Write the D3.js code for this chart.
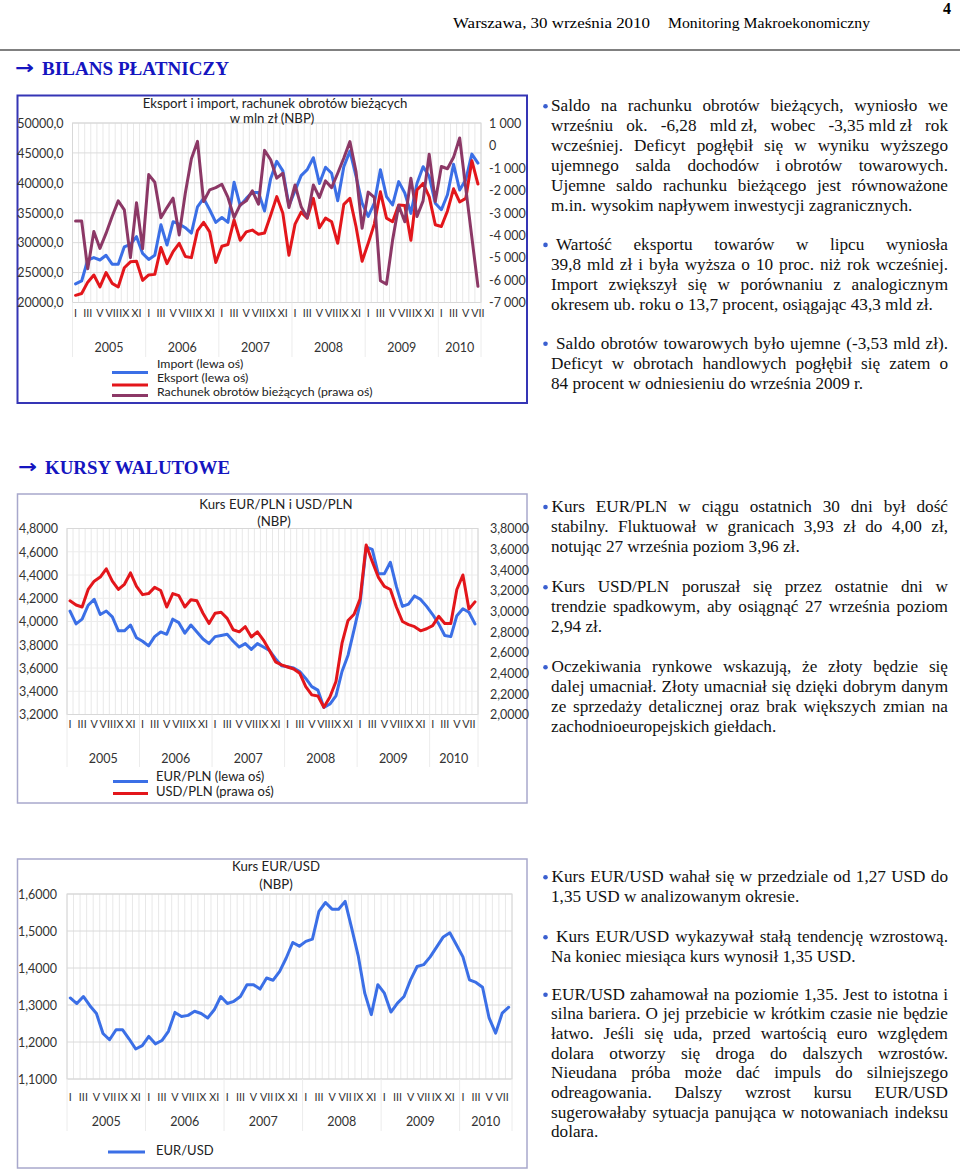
<!DOCTYPE html>
<html><head><meta charset="utf-8">
<script src="https://cdn.jsdelivr.net/npm/d3@7"></script>
<style>html,body{margin:0;padding:0;background:#fff}svg{display:block}</style>
</head><body>
<svg id="page" width="960" height="1171"></svg>
<script>
// ---------------- DATA ----------------
const romanMonths = ["I","II","III","IV","V","VI","VII","VIII","IX","X","XI","XII"];
const years = ["2005","2006","2007","2008","2009","2010"];

// Chart 1: Jan 2005 - Jul 2010 (mln zł)
const importVals = [23100,23600,27100,27500,27100,27900,26400,26400,29300,29700,31000,28200,
  27200,27900,33000,29600,33500,33100,32500,31600,36000,37400,35500,33400,
  34200,33400,40100,36200,37400,38400,38400,35300,40700,43600,42000,36200,
  38700,41200,42200,44200,39900,42600,41600,37000,42700,45300,41100,36600,
  34400,36600,42200,37700,36300,40200,38300,34900,39900,42700,41100,36600,
  35500,38000,43100,38800,40500,44800,43300];
const exportVals = [21200,21500,23400,24600,22600,25000,23200,22600,25800,26800,26900,23700,
  24600,24700,29200,26500,28500,29900,27700,27500,32000,33400,31800,26700,
  29400,29700,33800,30400,31800,32100,31400,31600,34600,37700,34900,27900,
  33100,35100,34100,37400,32500,34100,33500,29900,36400,37400,32700,26900,
  29900,33100,38500,34100,33500,36300,36200,30400,38800,39900,37700,33000,
  32700,35300,39000,36800,37400,43700,39800];
const currentAccount = [-3370,-3370,-5500,-3840,-4590,-3920,-3170,-2470,-2870,-5000,-2550,-4600,
  -1300,-1640,-3220,-2770,-2350,-3990,-2130,-590,180,-2500,-1980,-1880,
  -1730,-2320,-3220,-2650,-2470,-2020,-2620,-220,-640,-1460,-1240,-2770,
  -1760,-2730,-3220,-1760,-2320,-1580,-1880,-1240,-560,170,-1160,-3690,
  -2080,-2320,-6030,-6180,-4220,-2680,-3400,-1460,-3170,-2470,-390,-2500,
  -940,-1040,-530,330,-1900,-4100,-6280];
const c1LeftTicks = [20000,25000,30000,35000,40000,45000,50000];
const c1RightTicks = [-7000,-6000,-5000,-4000,-3000,-2000,-1000,0,1000];

// Chart 2: Jan 2005 - Aug 2010
const eurpln = [4.09,3.98,4.02,4.14,4.19,4.06,4.09,4.04,3.92,3.92,3.97,3.86,
  3.83,3.79,3.87,3.91,3.89,4.02,3.99,3.90,3.97,3.91,3.85,3.81,
  3.87,3.88,3.89,3.83,3.78,3.81,3.76,3.81,3.78,3.75,3.68,3.62,
  3.61,3.60,3.57,3.51,3.44,3.41,3.26,3.29,3.36,3.57,3.71,3.93,
  4.16,4.64,4.62,4.41,4.41,4.51,4.30,4.13,4.15,4.22,4.19,4.13,
  4.06,3.98,3.88,3.87,4.05,4.11,4.08,3.98];
const usdpln = [3.10,3.06,3.04,3.21,3.29,3.33,3.41,3.29,3.21,3.26,3.37,3.24,
  3.16,3.17,3.23,3.20,3.04,3.17,3.15,3.04,3.11,3.10,2.98,2.88,
  2.98,2.99,2.93,2.82,2.80,2.85,2.75,2.80,2.72,2.62,2.51,2.48,
  2.46,2.44,2.40,2.27,2.19,2.18,2.07,2.17,2.32,2.69,2.91,2.97,
  3.12,3.64,3.48,3.33,3.24,3.21,3.04,2.90,2.87,2.85,2.81,2.83,
  2.86,2.95,2.88,2.88,3.21,3.35,3.02,3.09];
const c2LeftTicks = [3.2,3.4,3.6,3.8,4.0,4.2,4.4,4.6,4.8];
const c2RightTicks = [2.0,2.2,2.4,2.6,2.8,3.0,3.2,3.4,3.6,3.8];

// Chart 3: Jan 2005 - Aug 2010
const eurusd = [1.319,1.304,1.323,1.298,1.277,1.223,1.206,1.233,1.233,1.208,1.181,1.190,
  1.215,1.195,1.204,1.229,1.280,1.269,1.272,1.283,1.277,1.265,1.287,1.323,
  1.304,1.310,1.323,1.355,1.355,1.343,1.373,1.367,1.391,1.427,1.469,1.459,
  1.472,1.478,1.553,1.577,1.559,1.559,1.580,1.508,1.433,1.332,1.274,1.355,
  1.332,1.281,1.305,1.323,1.368,1.404,1.409,1.430,1.457,1.484,1.495,1.463,
  1.430,1.368,1.361,1.348,1.265,1.224,1.278,1.294];
const c3Ticks = [1.1,1.2,1.3,1.4,1.5,1.6];

// ---------------- TEXT CONTENT ----------------
const block1 = [
  ["Saldo na rachunku obrotów bieżących, wyniosło we",
   "wrześniu ok. -6,28 mld\u00a0zł, wobec -3,35\u00a0mld\u00a0zł rok",
   "wcześniej. Deficyt pogłębił się w wyniku wyższego",
   "ujemnego salda dochodów i\u00a0obrotów towarowych.",
   "Ujemne saldo rachunku bieżącego jest równoważone",
   "m.in. wysokim napływem inwestycji zagranicznych."],
  ["Wartość eksportu towarów w lipcu wyniosła",
   "39,8 mld zł i była wyższa o 10 proc. niż rok wcześniej.",
   "Import zwiększył się w porównaniu z analogicznym",
   "okresem ub. roku o 13,7 procent, osiągając 43,3 mld zł."],
  ["Saldo obrotów towarowych było ujemne (-3,53 mld zł).",
   "Deficyt w obrotach handlowych pogłębił się zatem o",
   "84 procent w odniesieniu do września 2009 r."]
];
const block2 = [
  ["Kurs EUR/PLN w ciągu ostatnich 30 dni był dość",
   "stabilny. Fluktuował w granicach 3,93 zł do 4,00 zł,",
   "notując 27 września poziom 3,96 zł."],
  ["Kurs USD/PLN poruszał się przez ostatnie dni w",
   "trendzie spadkowym, aby osiągnąć 27 września poziom",
   "2,94 zł."],
  ["Oczekiwania rynkowe wskazują, że złoty będzie się",
   "dalej umacniał. Złoty umacniał się dzięki dobrym danym",
   "ze sprzedaży detalicznej oraz brak większych zmian na",
   "zachodnioeuropejskich giełdach."]
];
const block3 = [
  ["Kurs EUR/USD wahał się w przedziale od 1,27 USD do",
   "1,35 USD w analizowanym okresie."],
  ["Kurs EUR/USD wykazywał stałą tendencję wzrostową.",
   "Na koniec miesiąca kurs wynosił 1,35 USD."],
  ["EUR/USD zahamował na poziomie 1,35. Jest to istotna i",
   "silna bariera. O jej przebicie w krótkim czasie nie będzie",
   "łatwo. Jeśli się uda, przed wartością euro względem",
   "dolara otworzy się droga do dalszych wzrostów.",
   "Nieudana próba może dać impuls do silniejszego",
   "odreagowania. Dalszy wzrost kursu EUR/USD",
   "sugerowałaby sytuacja panująca w notowaniach indeksu",
   "dolara."]
];

// ---------------- STYLE ----------------
const SANS = "Lato, 'Open Sans', sans-serif";
const SERIF = "'Liberation Serif', 'Times New Roman', serif";
const BLUE = "#3b6fe6", RED = "#e3161b", PURPLE = "#8c3866";
const loc = d3.formatLocale({decimal:",", thousands:" ", grouping:[3], currency:["",""], minus:"-"});

const svg = d3.select("#page");

// ---------------- HEADER ----------------
svg.append("text").attr("x",943).attr("y",14).attr("font-family",SERIF).attr("font-weight","bold")
  .attr("font-size",16).text("4");
svg.append("text").attr("x",453).attr("y",28).attr("font-family",SERIF).attr("font-size",15)
  .attr("textLength",197).attr("lengthAdjust","spacingAndGlyphs").text("Warszawa, 30 września 2010");
svg.append("text").attr("x",668).attr("y",28).attr("font-family",SERIF).attr("font-size",15)
  .attr("textLength",202).attr("lengthAdjust","spacingAndGlyphs").text("Monitoring Makroekonomiczny");
svg.append("line").attr("x1",0).attr("x2",960).attr("y1",50).attr("y2",50)
  .attr("stroke","#808080").attr("stroke-width",2);

function heading(x, y, txt, tx, len){
  svg.append("text").attr("x",x).attr("y",y-1).attr("font-family","'DejaVu Sans', sans-serif")
    .attr("font-weight","bold").attr("font-size",19).attr("fill","#1515c0")
    .attr("textLength",19).attr("lengthAdjust","spacingAndGlyphs").text("→");
  svg.append("text").attr("x",tx).attr("y",y).attr("font-family",SERIF).attr("font-weight","bold")
    .attr("font-size",19).attr("fill","#1515c0").attr("textLength",len)
    .attr("lengthAdjust","spacingAndGlyphs").text(txt);
}
heading(15, 75, "BILANS PŁATNICZY", 42, 187);
heading(18, 474, "KURSY WALUTOWE", 45, 185);

// ---------------- PARAGRAPHS ----------------
const FS = 17.2;
function measure(str){
  const t = svg.append("text").attr("font-family",SERIF).attr("font-size",FS).text(str);
  const w = t.node().getComputedTextLength(); t.remove(); return w;
}
function drawLine(x0, x1, y, str, justify){
  const t = svg.append("text").attr("y",y).attr("font-family",SERIF).attr("font-size",FS).attr("fill","#111");
  if(!justify){ t.attr("x",x0).text(str); return; }
  const words = str.split(" ");
  const ws = words.map(measure);
  const gap = (x1 - x0 - d3.sum(ws)) / Math.max(1, words.length-1);
  let cx = x0;
  words.forEach((w,i)=>{ t.append("tspan").attr("x",cx).text(w); cx += ws[i] + gap; });
}
function drawBlock(block, starts, lh, firstIndents){
  block.forEach((lines, bi)=>{
    const yc0 = starts[bi];
    svg.append("circle").attr("cx",545.5).attr("cy",yc0+0.5).attr("r",2.3).attr("fill","#3a5fd0");
    lines.forEach((ln, li)=>{
      const x0 = li===0 ? firstIndents[bi] : 551;
      drawLine(x0, 948, yc0 + li*lh + 5.5, ln, li < lines.length-1);
    });
  });
}
drawBlock(block1, [105.7, 244.4, 343.2], 20, [551, 556, 556]);
drawBlock(block2, [506.5, 586.7, 666.7], 20, [551.5, 551.5, 551.5]);
drawBlock(block3, [876.7, 936.7, 994.3], 19.65, [551.5, 556, 551.5]);

// ---------------- CHARTS ----------------
function chart(cfg){
  const g = svg.append("g");
  const [fx0, fy0, fx1, fy1] = cfg.frame;
  g.append("rect").attr("x",fx0).attr("y",fy0).attr("width",fx1-fx0).attr("height",fy1-fy0)
    .attr("fill","#fff").attr("stroke",cfg.frameColor).attr("stroke-width",cfg.frameWidth);

  const cats = d3.range(cfg.n);
  const x = d3.scaleBand().domain(cats).range([cfg.px0, cfg.px1]);
  const bw = x.bandwidth();
  const xc = i => x(i) + bw/2;
  const yL = d3.scaleLinear().domain(d3.extent(cfg.leftTicks)).range([cfg.py1, cfg.py0]);
  const yR = cfg.rightTicks ? d3.scaleLinear().domain(d3.extent(cfg.rightTicks)).range([cfg.py1, cfg.py0]) : null;

  // vertical gridlines
  g.append("g").selectAll("line").data(d3.range(cfg.n+1)).join("line")
    .attr("x1", i => cfg.px0 + i*bw).attr("x2", i => cfg.px0 + i*bw)
    .attr("y1", cfg.py0).attr("y2", cfg.py1).attr("stroke","#e8e8e8").attr("stroke-width",1);
  // horizontal gridlines
  g.append("g").selectAll("line").data(cfg.leftTicks).join("line")
    .attr("x1", cfg.px0).attr("x2", cfg.px1).attr("y1", d=>yL(d)).attr("y2", d=>yL(d))
    .attr("stroke", cfg.hgrid).attr("stroke-width",1);
  // plot border
  g.append("rect").attr("x",cfg.px0).attr("y",cfg.py0).attr("width",cfg.px1-cfg.px0)
    .attr("height",cfg.py1-cfg.py0).attr("fill","none").attr("stroke","#d8d8d8");

  // year separators
  const bounds = [0,12,24,36,48,60,cfg.n];
  g.append("g").selectAll("line").data(bounds).join("line")
    .attr("x1", i => cfg.px0 + i*bw).attr("x2", i => cfg.px0 + i*bw)
    .attr("y1", cfg.py1).attr("y2", cfg.sepBottom).attr("stroke","#ececec");

  // left axis
  const axL = g.append("g").attr("transform",`translate(${cfg.px0},0)`)
    .call(d3.axisLeft(yL).tickValues(cfg.leftTicks).tickFormat(cfg.leftFmt).tickSize(0).tickPadding(cfg.leftPad));
  axL.select(".domain").remove();
  axL.selectAll("text").attr("font-family",SANS).attr("font-size",12.5).attr("fill","#333")
    .attr("dy", null).attr("y", 4.3);
  if(yR){
    const axR = g.append("g").attr("transform",`translate(${cfg.px1},0)`)
      .call(d3.axisRight(yR).tickValues(cfg.rightTicks).tickFormat(cfg.rightFmt).tickSize(0).tickPadding(cfg.rightPad));
    axR.select(".domain").remove();
    axR.selectAll("text").attr("font-family",SANS).attr("font-size",12.5).attr("fill","#333")
      .attr("dy", null).attr("y", 4.3);
  }
  // month axis
  const axX = g.append("g").attr("transform",`translate(0,${cfg.py1})`)
    .call(d3.axisBottom(x).tickValues(cats.filter(i => i%2===0)).tickFormat(i => romanMonths[i%12]).tickSize(0));
  axX.select(".domain").remove();
  axX.selectAll("text").attr("font-family",SANS).attr("font-size",10.8).attr("fill","#333")
    .attr("dy", null).attr("y", cfg.monthBase - cfg.py1);
  // years
  g.append("g").selectAll("text").data(years).join("text")
    .attr("x", (d,k) => { const a = bounds[k], b = bounds[k+1]; return cfg.px0 + (a+b)/2*bw; })
    .attr("y", cfg.yearBase).attr("text-anchor","middle")
    .attr("font-family",SANS).attr("font-size",12.5).attr("fill","#333").text(d=>d);

  // series
  cfg.series.forEach(s => {
    const sc = s.axis === "right" ? yR : yL;
    const line = d3.line().x((d,i)=>xc(i)).y(d=>sc(d));
    g.append("path").datum(s.values).attr("d", line).attr("fill","none")
      .attr("stroke", s.color).attr("stroke-width", cfg.lineWidth)
      .attr("stroke-linejoin","round").attr("stroke-linecap","round");
  });

  // title
  cfg.title.forEach(t => {
    g.append("text").attr("x", t.x).attr("y", t.y).attr("text-anchor","middle")
      .attr("font-family",SANS).attr("font-size",13.2).attr("fill","#222").text(t.text);
  });
  // legend
  cfg.series.forEach(s => {
    g.append("line").attr("x1", cfg.legend.lx0).attr("x2", cfg.legend.lx1)
      .attr("y1", s.ly).attr("y2", s.ly).attr("stroke", s.color).attr("stroke-width", 3.2);
    g.append("text").attr("x", cfg.legend.tx).attr("y", s.ty).attr("font-family",SANS)
      .attr("font-size",cfg.legend.fs).attr("fill","#222").text(s.label);
  });
}

chart({
  frame:[17.5,95.5,527,403], frameColor:"#3535b5", frameWidth:2,
  n: importVals.length, px0:72.5, px1:481, py0:123, py1:302.5,
  leftTicks:c1LeftTicks, leftFmt: loc.format(".1f"), leftPad:9,
  rightTicks:c1RightTicks, rightFmt: loc.format(",.0f"), rightPad:8,
  hgrid:"#dcdcdc", sepBottom:357, monthBase:316.5, yearBase:351.5, lineWidth:3,
  title:[{text:"Eksport i import, rachunek obrotów bieżących", x:275, y:107.5},
         {text:"w mln zł (NBP)", x:272, y:123}],
  legend:{lx0:112, lx1:148, tx:157, fs:12.3},
  series:[
    {label:"Import (lewa oś)", values:importVals, color:BLUE, axis:"left", ty:368, ly:372.5},
    {label:"Eksport (lewa oś)", values:exportVals, color:RED, axis:"left", ty:381.7, ly:385},
    {label:"Rachunek obrotów bieżących (prawa oś)", values:currentAccount, color:PURPLE, axis:"right", ty:396, ly:395.5}
  ]
});

chart({
  frame:[17.5,494,527,803], frameColor:"#a8a8cc", frameWidth:1.5,
  n: eurpln.length, px0:67, px1:478, py0:528.5, py1:714.5,
  leftTicks:c2LeftTicks, leftFmt: loc.format(".4f"), leftPad:9,
  rightTicks:c2RightTicks, rightFmt: loc.format(".4f"), rightPad:12,
  hgrid:"#ececec", sepBottom:767, monthBase:727.5, yearBase:762.5, lineWidth:3,
  title:[{text:"Kurs EUR/PLN i USD/PLN", x:276, y:508.5},{text:"(NBP)", x:274, y:526}],
  legend:{lx0:113, lx1:148, tx:156, fs:13},
  series:[
    {label:"EUR/PLN (lewa oś)", values:eurpln, color:BLUE, axis:"left", ty:781, ly:781.5},
    {label:"USD/PLN (prawa oś)", values:usdpln, color:RED, axis:"right", ty:796, ly:793.5}
  ]
});

chart({
  frame:[17.5,859,527,1168], frameColor:"#a8a8cc", frameWidth:1.5,
  n: eurusd.length, px0:67, px1:512, py0:894, py1:1079,
  leftTicks:c3Ticks, leftFmt: loc.format(".4f"), leftPad:10,
  rightTicks:null,
  hgrid:"#dadada", sepBottom:1131, monthBase:1101, yearBase:1126, lineWidth:3,
  title:[{text:"Kurs EUR/USD", x:276, y:871},{text:"(NBP)", x:276, y:889}],
  legend:{lx0:108, lx1:145, tx:156, fs:13},
  series:[
    {label:"EUR/USD", values:eurusd, color:BLUE, axis:"left", ty:1154.5, ly:1152}
  ]
});
</script>
</body></html>
